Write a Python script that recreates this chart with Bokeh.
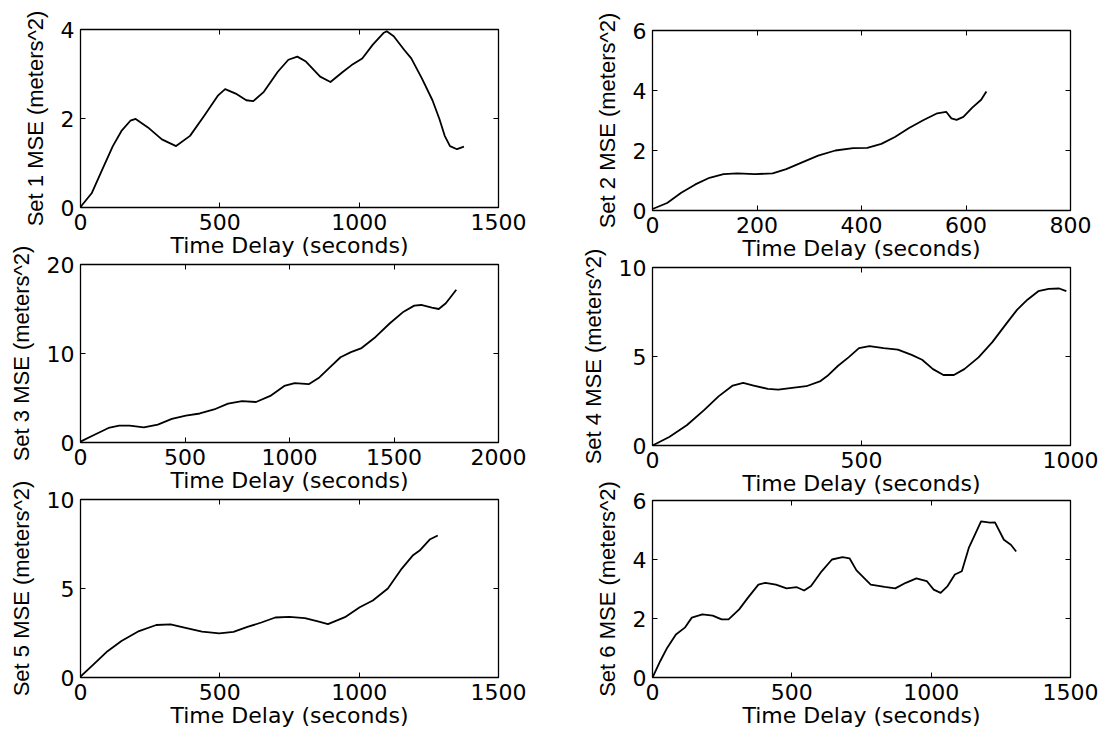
from bokeh.plotting import figure
from bokeh.layouts import column, row
from bokeh.models import Range1d, LinearAxis, FixedTicker
from bokeh.embed import file_html
from bokeh.resources import INLINE

# ---------------- data ----------------
x_label = "Time Delay (seconds)"
y_labels = ["Set 1 MSE (meters^2)", "Set 2 MSE (meters^2)", "Set 3 MSE (meters^2)",
            "Set 4 MSE (meters^2)", "Set 5 MSE (meters^2)", "Set 6 MSE (meters^2)"]

t1 = [0, 5, 40, 78, 116, 147, 179, 198, 242, 292, 343, 393, 444, 494, 519, 557, 595, 620,
      658, 708, 746, 778, 809, 860, 897, 942, 973, 1011, 1049, 1087, 1099, 1124, 1162, 1187,
      1225, 1263, 1288, 1307, 1326, 1351, 1376]
mse1 = [0.0, 0.05, 0.32, 0.85, 1.38, 1.72, 1.95, 1.99, 1.80, 1.53, 1.38, 1.61, 2.06, 2.52,
        2.66, 2.56, 2.41, 2.39, 2.60, 3.05, 3.32, 3.39, 3.28, 2.94, 2.82, 3.05, 3.20, 3.35,
        3.66, 3.92, 3.96, 3.85, 3.54, 3.35, 2.90, 2.41, 1.99, 1.61, 1.38, 1.31, 1.37]

t2 = [0, 28, 55, 82, 109, 136, 162, 196, 230, 256, 283, 317, 350, 384, 411, 438, 464, 491,
      518, 545, 562, 572, 582, 595, 612, 629, 639]
mse2 = [0.05, 0.25, 0.59, 0.87, 1.09, 1.21, 1.24, 1.21, 1.24, 1.38, 1.58, 1.83, 2.00, 2.08,
        2.09, 2.22, 2.45, 2.75, 3.01, 3.24, 3.29, 3.07, 3.02, 3.12, 3.43, 3.69, 3.97]

t3 = [0, 67, 134, 185, 235, 303, 370, 437, 504, 571, 639, 706, 773, 840, 908, 975, 1025,
      1092, 1143, 1193, 1244, 1294, 1345, 1412, 1479, 1546, 1597, 1630, 1681, 1714, 1748, 1798]
mse3 = [0.1, 0.87, 1.63, 1.89, 1.89, 1.70, 2.01, 2.65, 3.03, 3.26, 3.71, 4.36, 4.66, 4.55,
        5.23, 6.36, 6.67, 6.55, 7.31, 8.45, 9.58, 10.15, 10.61, 11.86, 13.37, 14.70, 15.38,
        15.45, 15.15, 15.00, 15.64, 17.16]

t4 = [0, 40, 82, 124, 158, 192, 217, 242, 276, 301, 334, 368, 402, 418, 444, 469, 494, 519,
      553, 587, 620, 645, 671, 696, 721, 746, 780, 813, 847, 872, 897, 923, 948, 973, 990]
mse4 = [0.0, 0.48, 1.14, 2.00, 2.76, 3.37, 3.52, 3.37, 3.18, 3.14, 3.24, 3.33, 3.62, 3.90,
        4.48, 4.95, 5.47, 5.58, 5.47, 5.39, 5.09, 4.82, 4.29, 3.96, 3.96, 4.29, 4.95, 5.81,
        6.86, 7.62, 8.19, 8.67, 8.80, 8.82, 8.67]

t5 = [0, 46, 97, 147, 210, 272, 323, 373, 436, 498, 549, 599, 649, 699, 749, 805, 852, 888,
      949, 1002, 1049, 1103, 1153, 1192, 1217, 1253, 1282]
mse5 = [0.05, 0.72, 1.48, 2.05, 2.61, 2.95, 2.99, 2.80, 2.58, 2.48, 2.56, 2.84, 3.09, 3.37,
        3.41, 3.33, 3.15, 3.00, 3.39, 3.95, 4.33, 5.00, 6.12, 6.85, 7.13, 7.75, 7.98]

t6 = [0, 28, 53, 84, 116, 141, 179, 216, 248, 273, 311, 342, 380, 405, 443, 481, 518, 544,
      569, 607, 644, 682, 707, 732, 783, 833, 871, 909, 947, 984, 1009, 1034, 1059, 1085,
      1110, 1135, 1160, 1179, 1211, 1229, 1261, 1286, 1305]
mse6 = [0.0, 0.56, 1.01, 1.46, 1.69, 2.03, 2.14, 2.10, 1.97, 1.97, 2.31, 2.70, 3.15, 3.21,
        3.15, 3.02, 3.06, 2.95, 3.10, 3.60, 4.00, 4.08, 4.04, 3.63, 3.15, 3.07, 3.02, 3.21,
        3.36, 3.27, 2.98, 2.87, 3.10, 3.49, 3.60, 4.39, 4.90, 5.29, 5.25, 5.26, 4.67, 4.50, 4.27]

x_ticks = [[0, 500, 1000, 1500], [0, 200, 400, 600, 800], [0, 500, 1000, 1500, 2000],
           [0, 500, 1000], [0, 500, 1000, 1500], [0, 500, 1000, 1500]]
y_ticks = [[0, 2, 4], [0, 2, 4, 6], [0, 10, 20], [0, 5, 10], [0, 5, 10], [0, 2, 4, 6]]

series = [(t1, mse1), (t2, mse2), (t3, mse3), (t4, mse4), (t5, mse5), (t6, mse6)]

# ---------------- layout constants ----------------
COL_W = 552
FRAME_W = 418
BOTTOM = 58
# (frame_left within column, frame_top on page, frame_height, top border)
geom = [
    (80, 29, 178, 29),
    (100, 30, 180, 30),
    (77, 264, 178, 26),
    (99, 267, 178, 26),
    (75, 499, 178, 26),
    (98, 500, 177, 26),
]

TICK_FONT = "DejaVu Sans"
YLAB_FONT = "Liberation Sans"


def make_panel(i):
    t, m = series[i]
    left, ftop, fh, top = geom[i]
    xt, yt = x_ticks[i], y_ticks[i]
    p = figure(frame_width=FRAME_W, frame_height=fh,
               x_range=Range1d(xt[0], xt[-1]), y_range=Range1d(yt[0], yt[-1]),
               output_backend="svg", toolbar_location=None,
               min_border_left=left, min_border_right=COL_W - left - FRAME_W,
               min_border_top=top, min_border_bottom=BOTTOM,
               background_fill_color="white", border_fill_color=None,
               outline_line_color="black", outline_line_width=1.3)
    p.grid.visible = False
    p.line(t, m, line_color="black", line_width=1.8, line_join="round")

    xa, ya = p.xaxis[0], p.yaxis[0]
    xa.ticker = FixedTicker(ticks=xt)
    ya.ticker = FixedTicker(ticks=yt)
    xa.axis_label = x_label
    ya.axis_label = y_labels[i]
    for ax in (xa, ya):
        ax.major_tick_in = 5
        ax.major_tick_out = 0
        ax.minor_tick_line_color = None
        ax.axis_line_color = "black"
        ax.major_tick_line_color = "black"
        ax.major_label_text_font = TICK_FONT
        ax.major_label_text_font_size = "22px"
        ax.major_label_text_color = "black"
        ax.major_label_standoff = 6
        ax.axis_label_text_font_style = "normal"
        ax.axis_label_text_color = "black"
    xa.axis_label_text_font = TICK_FONT
    xa.axis_label_text_font_size = "22px"
    xa.axis_label_standoff = 0
    ya.axis_label_text_font = YLAB_FONT
    ya.axis_label_text_font_size = "22px"
    ya.axis_label_standoff = 10

    # mirrored ticks on top and right (MATLAB box style)
    for loc, ticks in (("above", xt), ("right", yt)):
        ax = LinearAxis(ticker=FixedTicker(ticks=ticks), major_tick_in=5, major_tick_out=0,
                        minor_tick_line_color=None, axis_line_color="black",
                        major_tick_line_color="black", major_label_text_font_size="0px",
                        major_label_text_alpha=0, major_label_standoff=0)
        p.add_layout(ax, loc)
    return p


figs = [make_panel(i) for i in range(6)]

# vertical placement: negative top margins let rows overlap like the original
for col_idx in (0, 1):
    prev_bottom = 0
    for r in range(3):
        i = r * 2 + col_idx
        left, ftop, fh, top = geom[i]
        fig_top = ftop - top
        mt = fig_top - prev_bottom
        if mt != 0:
            figs[i].margin = (mt, 0, 0, 0)
        prev_bottom = fig_top + top + fh + BOTTOM

left_col = column(figs[0], figs[2], figs[4], spacing=0)
right_col = column(figs[1], figs[3], figs[5], spacing=0)
layout = row(left_col, right_col, spacing=0)

open("out.html", "w").write(file_html(layout, INLINE))
